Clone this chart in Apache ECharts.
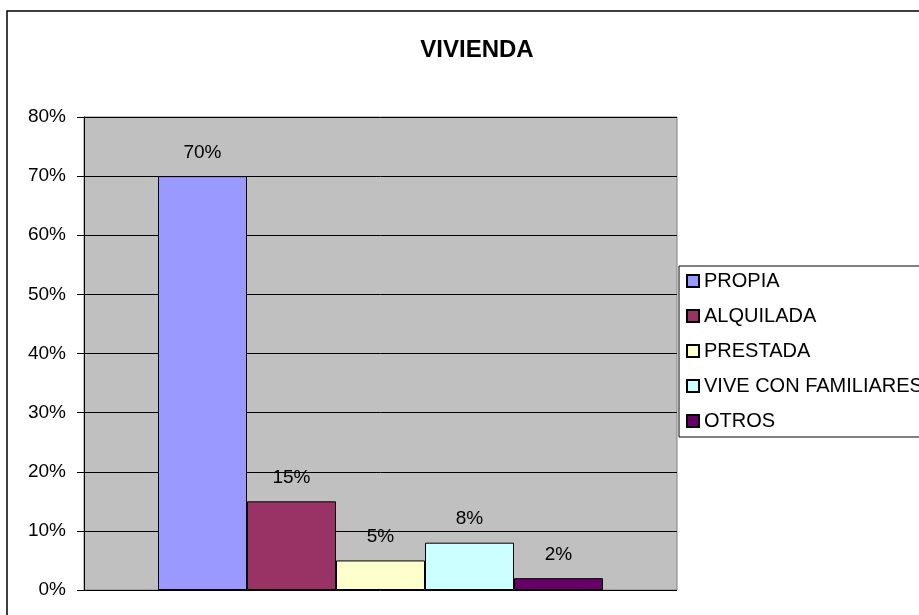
<!DOCTYPE html>
<html>
<head>
<meta charset="utf-8">
<script src="https://cdn.jsdelivr.net/npm/echarts@6/dist/echarts.min.js"></script>
<style>
  html, body { margin: 0; padding: 0; background: #fff; }
  #container { width: 919px; height: 615px; }
</style>
</head>
<body>
<div id="container"></div>
<script>
// datos
var categorias = ["VIVIENDA"];
var series_nombres = ["PROPIA", "ALQUILADA", "PRESTADA", "VIVE CON FAMILIARES", "OTROS"];
var valores = [0.70, 0.15, 0.05, 0.08, 0.02];
var colores = ["#9999FF", "#993366", "#FFFFCC", "#CCFFFF", "#660066"];

var dom = document.getElementById("container");
var myChart = echarts.init(dom);
var font = "Liberation Sans, Arial, sans-serif";

var series = series_nombres.map(function (nombre, i) {
  return {
    name: nombre,
    type: "bar",
    barWidth: 89,
    barGap: "0%",
    data: [valores[i]],
    itemStyle: { color: colores[i], borderColor: "#000", borderWidth: 1 },
    label: {
      show: true,
      position: "top",
      distance: 14,
      color: "#000",
      fontFamily: font,
      fontSize: 19,
      formatter: function (p) {
        return Math.round(p.value * 100) + "%";
      },
    },
  };
});

var option = {
  animation: false,
  backgroundColor: "#fff",
  title: {
    text: "VIVIENDA",
    left: 472,
    textAlign: "center",
    top: 33,
    textStyle: { fontFamily: font, fontSize: 24, fontWeight: "bold", color: "#000" },
  },
  graphic: [
    {
      type: "rect",
      shape: { x: 7, y: 11, width: 930, height: 620 },
      style: { fill: null, stroke: "#000", lineWidth: 1.5 },
      silent: true,
    },
  ],
  legend: {
    orient: "vertical",
    left: 679,
    top: 266,
    padding: [5, 8, 6, 7],
    borderColor: "#000",
    borderWidth: 1,
    itemWidth: 12,
    itemHeight: 12,
    itemGap: 15,
    icon: "rect",
    textStyle: { fontFamily: font, fontSize: 20, color: "#000" },
    data: series_nombres,
  },
  grid: {
    left: 84,
    right: 242,
    top: 117,
    bottom: 25,
    show: true,
    backgroundColor: "#C0C0C0",
    borderColor: "#808080",
    borderWidth: 1,
  },
  xAxis: {
    type: "category",
    data: categorias,
    axisLabel: { show: false },
    axisTick: { show: false },
    axisLine: { show: false },
  },
  yAxis: {
    type: "value",
    min: 0,
    max: 0.8,
    interval: 0.1,
    axisLine: { show: true, lineStyle: { color: "#000" } },
    axisTick: { show: true, length: 7, lineStyle: { color: "#000" } },
    splitLine: { show: true, lineStyle: { color: "#000" } },
    axisLabel: {
      margin: 18,
      color: "#000",
      fontFamily: font,
      fontSize: 19,
      formatter: function (v) {
        return Math.round(v * 100) + "%";
      },
    },
  },
  series: series,
};

myChart.setOption(option, true);
</script>
</body>
</html>
